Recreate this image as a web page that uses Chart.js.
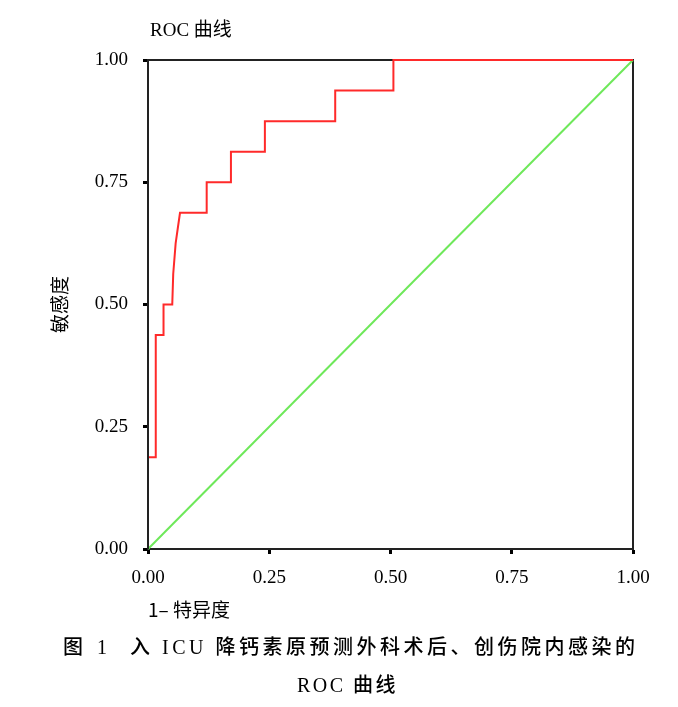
<!DOCTYPE html>
<html>
<head>
<meta charset="utf-8">
<script src="https://cdn.jsdelivr.net/npm/chart.js@4.4.1/dist/chart.umd.min.js"></script>
<style>
  body { margin: 0; background: #fff; }
  #wrap { position: relative; width: 678px; height: 707px; }
  canvas { position: absolute; left: 0; top: 0; }
  .txt { position: absolute; white-space: nowrap; color: #000; line-height: 1; }
  .serif { font-family: "Liberation Serif", "Noto Sans CJK SC", serif; }
  .cap { font-family: "Liberation Serif", "Noto Sans CJK SC", serif; font-size: 20px; letter-spacing: 3.5px; font-weight: 500; }
</style>
</head>
<body>
<div id="wrap">
  <canvas id="rocChart" width="678" height="707"></canvas>
  <div class="txt serif" style="left:150px; top:20px; font-size:19px;">ROC 曲线</div>
  <div class="txt cap" style="left:63px; top:637px;">图</div>
  <div class="txt cap" style="left:97px; top:637px;">1</div>
  <div class="txt cap" style="left:130px; top:637px;">入 ICU 降钙素原预测外科术后、创伤院内感染的</div>
  <div class="txt cap" style="left:297px; top:675px; letter-spacing:2.5px;">ROC 曲线</div>
</div>
<script>
// ROC curve (1 - specificity, sensitivity)
const rocFpr = [0, 0, 0.016, 0.016, 0.032, 0.032, 0.05, 0.052, 0.057, 0.062, 0.066, 0.121, 0.121, 0.171, 0.171, 0.241, 0.241, 0.386, 0.386, 0.506, 0.506, 1];
const rocTpr = [0, 0.1875, 0.1875, 0.4375, 0.4375, 0.5, 0.5, 0.5625, 0.625, 0.66, 0.6875, 0.6875, 0.75, 0.75, 0.8125, 0.8125, 0.875, 0.875, 0.9375, 0.9375, 1, 1];

// reference diagonal
const refX = [0, 1];
const refY = [0, 1];

const tickValues = [0, 0.25, 0.5, 0.75, 1];

const toPoints = (xs, ys) => xs.map((x, i) => ({ x, y: ys[i] }));

// box around the plot area; left edge redrawn over the curves
const framePlugin = {
  id: 'frame',
  beforeDatasetsDraw(chart) {
    const { ctx, chartArea: a } = chart;
    ctx.save();
    ctx.strokeStyle = '#222';
    ctx.lineWidth = 2;
    ctx.strokeRect(a.left, a.top, a.right - a.left, a.bottom - a.top);
    ctx.restore();
  },
  afterDatasetsDraw(chart) {
    const { ctx, chartArea: a } = chart;
    ctx.save();
    ctx.strokeStyle = '#222';
    ctx.lineWidth = 2;
    ctx.beginPath();
    ctx.moveTo(a.left, a.top);
    ctx.lineTo(a.left, a.bottom);
    ctx.stroke();
    ctx.restore();
  },
};

const serif = '"Liberation Serif", serif';
const cjk = '"Noto Sans CJK SC", "Liberation Serif", sans-serif';

const axisCommon = {
  type: 'linear',
  min: 0,
  max: 1,
  afterBuildTicks: scale => {
    scale.ticks = tickValues.map(v => ({ value: v }));
  },
  grid: {
    drawOnChartArea: false,
    drawTicks: true,
    tickLength: 5,
    tickWidth: 3,
    tickColor: '#000',
  },
  border: { display: true, color: '#222', width: 2 },
};

new Chart(document.getElementById('rocChart').getContext('2d'), {
  type: 'scatter',
  data: {
    datasets: [
      {
        label: 'ROC',
        data: toPoints(rocFpr, rocTpr),
        showLine: true,
        borderColor: '#ff2a2a',
        borderWidth: 2,
        pointRadius: 0,
        tension: 0,
        clip: 4,
        order: 1,
      },
      {
        label: '参考线',
        data: toPoints(refX, refY),
        showLine: true,
        borderColor: '#6ee85a',
        borderWidth: 2,
        pointRadius: 0,
        clip: 4,
        order: 2,
      },
    ],
  },
  options: {
    responsive: false,
    animation: false,
    layout: { padding: { left: 0, top: 60, right: 45, bottom: 78 } },
    plugins: {
      legend: { display: false },
      tooltip: { enabled: false },
    },
    scales: {
      x: {
        ...axisCommon,
        position: 'bottom',
        afterFit: scale => { scale.height = 80; },
        ticks: {
          padding: 13,
          color: '#000',
          font: { family: serif, size: 19 },
          callback: v => v.toFixed(2),
        },
        title: {
          display: true,
          text: '1– 特异度',
          align: 'start',
          color: '#000',
          font: { family: cjk, size: 19 },
          padding: { top: 0, bottom: 8 },
        },
      },
      y: {
        ...axisCommon,
        position: 'left',
        afterFit: scale => { scale.width = 148; },
        ticks: {
          padding: 15,
          color: '#000',
          font: { family: serif, size: 19 },
          callback: v => v.toFixed(2),
        },
        title: {
          display: true,
          text: '敏感度',
          color: '#000',
          font: { family: cjk, size: 19 },
          padding: { top: 48, bottom: 0 },
        },
      },
    },
  },
  plugins: [framePlugin],
});
</script>
</body>
</html>
